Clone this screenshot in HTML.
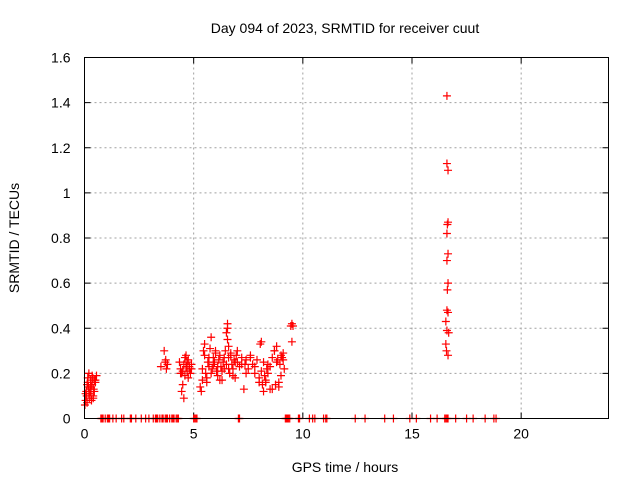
<!DOCTYPE html>
<html><head><meta charset="utf-8"><style>
body{margin:0;background:#fff}
svg{display:block;font-family:"Liberation Sans",sans-serif}
</style></head><body>
<svg id="chart" width="640" height="480">
<text x="345" y="33" font-size="14" text-anchor="middle">Day 094 of 2023, SRMTID for receiver cuut</text>
<text x="345" y="472" font-size="14" text-anchor="middle">GPS time / hours</text>
<text transform="translate(19,238) rotate(-90)" font-size="14" text-anchor="middle">SRMTID / TECUs</text>
<g id="grid"></g><g id="ticks"></g><g id="marks"></g>
<rect x="84.5" y="57.5" width="524" height="361" fill="none" stroke="#000" stroke-width="1"/>
</svg>
<script>
const xTicks=[0,5,10,15,20];
const yTicks=[0,0.2,0.4,0.6,0.8,1,1.2,1.4,1.6];
const yTickLabels=["0","0.2","0.4","0.6","0.8","1","1.2","1.4","1.6"];
const ptsX=[0.02,0.05,0.08,0.1,0.12,0.15,0.18,0.2,0.22,0.25,0.28,0.3,0.32,0.35,0.38,0.4,0.42,0.45,0.5,0.55,0.12,0.2,0.3,0.4,0.05,0.15,0.25,0.35,0.45,0.5,
3.5,3.65,3.7,3.75,3.8,3.72,
4.35,4.4,4.45,4.5,4.55,4.6,4.65,4.7,4.75,4.8,4.85,4.9,4.45,4.55,4.65,4.75,4.6,4.5,4.7,4.8,4.9,4.4,
5.3,5.35,5.4,5.45,5.5,5.55,5.6,5.65,5.7,5.75,5.8,5.85,5.9,5.95,6.0,6.05,6.1,6.15,6.2,6.25,6.3,6.35,6.4,6.45,6.5,6.55,6.6,6.65,6.7,6.75,6.8,6.85,6.9,6.95,7.0,7.1,7.2,7.3,7.35,7.4,7.5,7.6,7.7,7.8,7.9,8.0,8.05,8.1,8.15,8.2,8.25,8.3,8.35,8.4,8.5,8.6,8.7,8.75,8.8,8.85,8.9,8.95,9.0,9.05,9.1,9.15,
5.5,5.6,5.7,5.8,5.9,6.0,6.1,6.2,6.3,6.4,6.5,6.55,6.6,6.7,6.8,6.9,7.0,7.2,7.4,7.6,7.8,8.0,8.1,8.2,8.3,8.4,8.5,8.6,8.7,8.8,8.9,9.0,9.1,5.4,6.6,6.55,
9.45,9.5,9.55,9.5,
16.6,16.6,16.65,16.65,16.62,16.6,16.65,16.6,16.65,16.62,16.6,16.65,16.55,16.6,16.68,16.55,16.58,16.65];
const ptsY=[0.06,0.08,0.12,0.1,0.15,0.18,0.14,0.2,0.09,0.12,0.17,0.1,0.08,0.15,0.18,0.09,0.13,0.17,0.16,0.19,0.07,0.11,0.14,0.1,0.11,0.16,0.13,0.19,0.12,0.17,
0.23,0.3,0.25,0.22,0.24,0.26,
0.25,0.22,0.2,0.15,0.24,0.27,0.23,0.21,0.26,0.22,0.2,0.24,0.12,0.09,0.28,0.18,0.19,0.21,0.25,0.23,0.22,0.2,
0.14,0.12,0.17,0.3,0.28,0.2,0.16,0.25,0.23,0.31,0.36,0.22,0.27,0.25,0.3,0.21,0.19,0.26,0.28,0.23,0.17,0.25,0.22,0.3,0.38,0.42,0.27,0.2,0.29,0.24,0.22,0.26,0.18,0.28,0.25,0.23,0.27,0.13,0.24,0.26,0.22,0.28,0.24,0.2,0.26,0.18,0.33,0.21,0.15,0.12,0.19,0.16,0.22,0.24,0.13,0.27,0.3,0.15,0.32,0.26,0.14,0.24,0.19,0.27,0.29,0.22,
0.33,0.18,0.27,0.2,0.24,0.29,0.23,0.17,0.21,0.27,0.24,0.35,0.22,0.28,0.19,0.25,0.3,0.24,0.2,0.27,0.23,0.16,0.34,0.25,0.17,0.2,0.23,0.13,0.3,0.25,0.16,0.28,0.26,0.22,0.32,0.4,
0.41,0.42,0.41,0.34,
1.43,1.13,1.1,0.87,0.86,0.82,0.73,0.7,0.6,0.57,0.48,0.47,0.43,0.39,0.38,0.33,0.3,0.28];
const zeroX=[0.75,0.8,0.85,0.95,1.05,1.1,1.15,1.3,1.45,1.7,1.8,2.1,2.15,2.35,2.6,2.8,2.95,3.15,3.25,3.3,3.35,3.45,3.55,3.6,3.7,3.75,3.8,3.9,4.0,4.05,4.1,4.2,4.25,4.3,5.0,5.05,5.1,5.15,7.05,7.1,9.2,9.25,9.3,9.35,9.4,9.8,9.85,10.3,10.45,10.55,10.95,11.05,11.1,12.4,12.85,13.75,14.15,14.9,15.2,15.85,16.15,16.5,16.55,16.6,16.65,17.0,17.5,17.8,18.35,18.75,18.85];

const L=84.5,R=608.5,T=57.5,B=418.5;
const xs=v=>L+(v/24)*(R-L);
const ys=v=>B-(v/1.6)*(B-T);
const NS="http://www.w3.org/2000/svg";
function mk(tag,attrs,parent){const e=document.createElementNS(NS,tag);for(const k in attrs)e.setAttribute(k,attrs[k]);parent.appendChild(e);return e;}
const grid=document.getElementById('grid'),ticks=document.getElementById('ticks'),marks=document.getElementById('marks');
xTicks.forEach(v=>{const x=xs(v);
 if(v>0){const g=mk('line',{x1:x,x2:x,y1:T,y2:B,stroke:'#a0a0a0','stroke-dasharray':'2,3'},grid);
 
 }
 mk('line',{x1:x,x2:x,y1:B,y2:B-6,stroke:'#000'},ticks);mk('line',{x1:x,x2:x,y1:T,y2:T+6,stroke:'#000'},ticks);
 const t=mk('text',{x:x,y:B+20,'font-size':14,'text-anchor':'middle'},ticks);t.textContent=v;
 
 });
yTicks.forEach((v,i)=>{const y=ys(v);
 if(v>0&&v<1.6){const g=mk('line',{x1:L,x2:R,y1:y,y2:y,stroke:'#a0a0a0','stroke-dasharray':'2,3'},grid);
 
 }
 mk('line',{x1:L,x2:L+6,y1:y,y2:y,stroke:'#000'},ticks);mk('line',{x1:R,x2:R-6,y1:y,y2:y,stroke:'#000'},ticks);
 const t=mk('text',{x:L-14,y:y+5,'font-size':14,'text-anchor':'end'},ticks);t.textContent=yTickLabels[i];
 
 });
function cross(x,y){const g=mk('path',{d:`M${x-4},${y}H${x+4}M${x},${y-4}V${y+4}`,stroke:'#f00','stroke-width':1.2,fill:'none'},marks);return g;}
ptsX.forEach((v,i)=>{const p=cross(xs(v),ys(ptsY[i]));
 
 });
zeroX.forEach(v=>{const p=cross(xs(v),ys(0));
 
 });
</script>
</body></html>
